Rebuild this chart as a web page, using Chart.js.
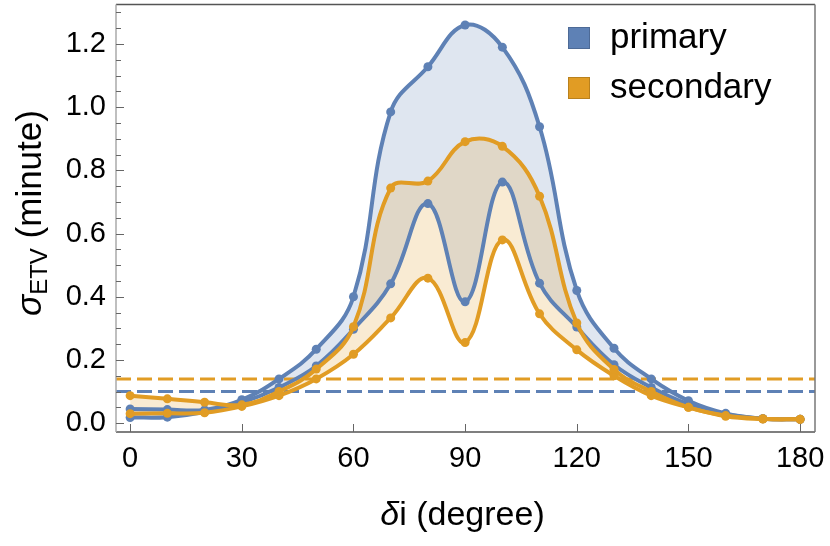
<!DOCTYPE html>
<html>
<head>
<meta charset="utf-8">
<script src="https://cdn.jsdelivr.net/npm/chart.js@4/dist/chart.umd.min.js"></script>
<style>
html,body{margin:0;padding:0;background:#fff;}
#wrap{width:830px;height:546px;position:relative;}
</style>
</head>
<body>
<div id="wrap"><canvas id="c" width="830" height="546"></canvas></div>
<script>
// ---- data ----
const xValues = [0,10,20,30,40,50,60,70,80,90,100,110,120,130,140,150,160,170,180];
const primaryUpper   = [0.045,0.043,0.042,0.074,0.140,0.234,0.400,0.985,1.128,1.260,1.190,0.938,0.420,0.237,0.140,0.071,0.031,0.014,0.012];
const primaryLower   = [0.018,0.019,0.035,0.065,0.113,0.181,0.297,0.441,0.695,0.384,0.763,0.443,0.304,0.185,0.113,0.060,0.028,0.014,0.012];
const secondaryUpper = [0.087,0.077,0.066,0.058,0.100,0.171,0.305,0.744,0.766,0.891,0.876,0.718,0.317,0.170,0.100,0.050,0.024,0.014,0.012];
const secondaryLower = [0.030,0.031,0.033,0.053,0.087,0.140,0.218,0.333,0.459,0.255,0.580,0.346,0.232,0.150,0.087,0.050,0.022,0.013,0.012];
const primaryThreshold = 0.10;
const secondaryThreshold = 0.14;
const seriesNames = ["primary", "secondary"];
const xTicks = [0,30,60,90,120,150,180];
const yTicks = [0,0.2,0.4,0.6,0.8,1.0,1.2];
const xRange = [-3.8, 184];
const yRange = [-0.028, 1.325];

const BLUE = '#5E81B5', ORANGE = '#E19C24';
const toPts = ys => xValues.map((x,i)=>({x:x, y:ys[i]}));
const hline = v => [{x:xRange[0], y:v},{x:xRange[1], y:v}];

const lineStyle = (color) => ({
  borderColor: color, backgroundColor: color, borderWidth: 4,
  pointRadius: 4.5, pointHoverRadius: 4.5, pointBackgroundColor: color, pointBorderWidth: 0,
  tension: 0.4
});

const FONT = "'Liberation Sans', Arial, sans-serif";

const decor = {
  id: 'decor',
  afterDraw(chart) {
    const ctx = chart.ctx, a = chart.chartArea;
    const xs = chart.scales.x, ys = chart.scales.y;
    ctx.save();
    // frame
    ctx.lineWidth = 1.5;
    ctx.strokeStyle = '#555';
    ctx.beginPath(); ctx.moveTo(a.left, a.top); ctx.lineTo(a.right, a.top); ctx.stroke();
    ctx.beginPath(); ctx.moveTo(a.left, a.bottom); ctx.lineTo(a.right, a.bottom); ctx.stroke();
    ctx.strokeStyle = '#777';
    ctx.beginPath(); ctx.moveTo(a.right, a.top); ctx.lineTo(a.right, a.bottom); ctx.stroke();
    ctx.strokeStyle = '#aaa';
    ctx.beginPath(); ctx.moveTo(a.left, a.top); ctx.lineTo(a.left, a.bottom); ctx.stroke();
    // y ticks (inward)
    ctx.lineWidth = 1;
    ctx.strokeStyle = '#666';
    for (let v = 0; v <= yRange[1] + 1e-9; v += 0.05) {
      const y = Math.round(ys.getPixelForValue(v)) + 0.5;
      const major = Math.abs(v / 0.2 - Math.round(v / 0.2)) < 1e-6;
      ctx.beginPath(); ctx.moveTo(a.left, y); ctx.lineTo(a.left + (major ? 8 : 5), y); ctx.stroke();
    }
    // x ticks (inward)
    xTicks.forEach(t => {
      const x = Math.round(xs.getPixelForValue(t)) + 0.5;
      ctx.beginPath(); ctx.moveTo(x, a.bottom); ctx.lineTo(x, a.bottom - 8); ctx.stroke();
    });
    // x title
    ctx.fillStyle = '#000';
    ctx.textBaseline = 'alphabetic';
    const cx = (a.left + a.right) / 2;
    ctx.font = 'italic 34px ' + FONT;
    const w1 = ctx.measureText('δ').width;
    ctx.font = '34px ' + FONT;
    const rest = 'i (degree)';
    const w2 = ctx.measureText(rest).width;
    let sx = cx - (w1 + w2) / 2 - 3;
    ctx.font = 'italic 34px ' + FONT;
    ctx.textAlign = 'left';
    ctx.fillText('δ', sx, 525);
    ctx.font = '34px ' + FONT;
    ctx.fillText(rest, sx + w1, 525);
    // y title (rotated)
    ctx.save();
    ctx.translate(41, 213);
    ctx.rotate(-Math.PI / 2);
    ctx.font = 'italic 35px ' + FONT;
    const s1 = ctx.measureText('σ').width;
    ctx.font = '24px ' + FONT;
    const s2 = ctx.measureText('ETV').width;
    ctx.font = '35px ' + FONT;
    const s3 = ctx.measureText(' (minute)').width;
    let px = -(s1 + s2 + s3) / 2;
    ctx.font = 'italic 35px ' + FONT;
    ctx.fillText('σ', px, 0); px += s1;
    ctx.font = '24px ' + FONT;
    ctx.fillText('ETV', px, 6); px += s2;
    ctx.font = '35px ' + FONT;
    ctx.fillText(' (minute)', px, 0);
    ctx.restore();
    // legend
    const legendColors = [BLUE, ORANGE];
    const legendBorders = ['#4d6a96', '#b9811d'];
    const centers = [38, 88];
    seriesNames.forEach((name, i) => {
      ctx.fillStyle = legendColors[i];
      ctx.fillRect(568, centers[i] - 11, 22, 22);
      ctx.strokeStyle = legendBorders[i];
      ctx.lineWidth = 1;
      ctx.strokeRect(568.5, centers[i] - 10.5, 21, 21);
      ctx.fillStyle = '#000';
      ctx.font = '35px ' + FONT;
      ctx.textAlign = 'left';
      ctx.fillText(name, 610, centers[i] + 10);
    });
    ctx.restore();
  }
};

new Chart(document.getElementById('c'), {
  type: 'line',
  data: {
    datasets: [
      Object.assign({ label: seriesNames[1] + ' upper', data: toPts(secondaryUpper), fill: '+1' }, lineStyle(ORANGE), { backgroundColor: 'rgba(225,156,36,0.2)' }),
      Object.assign({ label: seriesNames[1] + ' lower', data: toPts(secondaryLower), fill: false }, lineStyle(ORANGE)),
      Object.assign({ label: seriesNames[0] + ' upper', data: toPts(primaryUpper), fill: '+1' }, lineStyle(BLUE), { backgroundColor: 'rgba(94,129,181,0.2)' }),
      Object.assign({ label: seriesNames[0] + ' lower', data: toPts(primaryLower), fill: false }, lineStyle(BLUE)),
      { label: 'primary threshold', data: hline(primaryThreshold), borderColor: BLUE, borderWidth: 3, borderDash: [15, 6], pointRadius: 0, fill: false, tension: 0 },
      { label: 'secondary threshold', data: hline(secondaryThreshold), borderColor: ORANGE, borderWidth: 3, borderDash: [15, 6], pointRadius: 0, fill: false, tension: 0 }
    ]
  },
  options: {
    responsive: false,
    animation: false,
    events: [],
    layout: { padding: { top: 1, right: 15, left: 0, bottom: 0 } },
    plugins: {
      legend: { display: false },
      tooltip: { enabled: false },
      filler: { drawTime: 'beforeDatasetsDraw' }
    },
    scales: {
      x: {
        type: 'linear', min: xRange[0], max: xRange[1],
        grid: { display: false, drawTicks: false }, border: { display: false },
        afterBuildTicks: s => { s.ticks = xTicks.map(v => ({ value: v })); },
        afterFit: s => { s.height = 114; s.paddingLeft = 0; s.paddingRight = 0; },
        ticks: { color: '#000', font: { family: FONT, size: 29 }, padding: 10, maxRotation: 0, autoSkip: false,
                 callback: v => String(v) }
      },
      y: {
        type: 'linear', min: yRange[0], max: yRange[1],
        grid: { display: false, drawTicks: false }, border: { display: false },
        afterBuildTicks: s => { s.ticks = yTicks.map(v => ({ value: v })); },
        afterFit: s => { s.width = 116; s.paddingTop = 0; s.paddingBottom = 0; },
        ticks: { color: '#000', font: { family: FONT, size: 29 }, padding: 10, autoSkip: false,
                 callback: v => Number(v).toFixed(1) }
      }
    }
  },
  plugins: [decor]
});
</script>
</body>
</html>
